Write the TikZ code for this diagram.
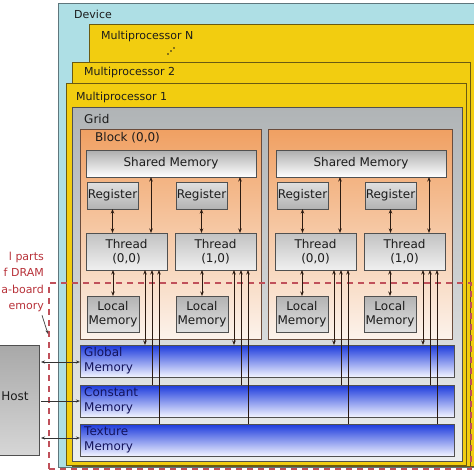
\documentclass[tikz,border=0pt]{standalone}
\usepackage{fontspec}
\setmainfont{DejaVu Sans}
\usetikzlibrary{arrows.meta,calc}
\definecolor{devfill}{HTML}{AEDFE5}
\definecolor{devline}{HTML}{5E767C}
\definecolor{mpy}{HTML}{F2CD10}
\definecolor{mpline}{HTML}{6A5A12}
\definecolor{gridtop}{HTML}{B0B4B6}
\definecolor{gridbot}{HTML}{ECEEEE}
\definecolor{blktop}{HTML}{F0A062}
\definecolor{blkbot}{HTML}{FCF3EC}
\definecolor{blkline}{HTML}{6A4C3C}
\definecolor{memtop}{HTML}{1C3ADC}
\definecolor{membot}{HTML}{F2F4FF}
\definecolor{memtxt}{HTML}{14145C}
\definecolor{boxline}{HTML}{505050}
\definecolor{txtc}{HTML}{1C1C1C}
\definecolor{arrc}{HTML}{2B1A10}
\definecolor{dramred}{HTML}{C0505A}
\definecolor{dramtxt}{HTML}{B8323A}
\begin{document}
\begin{tikzpicture}[x=1pt,y=-1pt,
  box/.style={rectangle, inner sep=0pt, outer sep=0pt, anchor=north west, draw=boxline, line width=0.8pt, text=txtc, font=\fontsize{12}{14.5}\selectfont, align=center},
  biglbl/.style={anchor=west, inner sep=0pt, text=txtc, font=\fontsize{11}{13}\selectfont},
  lbl/.style={anchor=west, inner sep=0pt, text=txtc, font=\fontsize{12}{14}\selectfont},
  memlbl/.style={anchor=west, inner sep=0pt, text=memtxt, align=left, font=\fontsize{12}{15}\selectfont},
  membox/.style={box, top color=memtop, bottom color=membot, minimum width=374pt, minimum height=32pt},
  regbox/.style={box, top color=white!88!black, bottom color=white!70!black, minimum width=51pt, minimum height=27pt},
  thrbox/.style={box, top color=white!76!black, bottom color=white!94!black, minimum width=81pt, minimum height=37pt},
  locbox/.style={box, top color=white!70!black, bottom color=white!88!black, minimum width=52pt, minimum height=36pt},
  smbox/.style={box, top color=white!68!black, bottom color=white, minimum width=170pt, minimum height=27pt},
  blkbox/.style={box, draw=blkline, top color=blktop, bottom color=blkbot, minimum height=210pt},
  mpbox/.style={box, fill=mpy, draw=mpline, line width=1pt},
  arr/.style={arrc, line width=0.9pt, {Stealth[length=4.5pt,width=3.5pt]}-{Stealth[length=4.5pt,width=3.5pt]}},
  arrin/.style={arrc, line width=0.9pt, -{Stealth[length=4.5pt,width=3.5pt]}},
  hostarr/.style={black!80, line width=0.7pt},
]
\useasboundingbox (0,0) rectangle (474,474);
\clip (0,0) rectangle (474,474);
\fill[white] (0,0) rectangle (474,474);

% Device and multiprocessors
\node[box, fill=devfill, draw=devline, minimum width=432pt, minimum height=464pt] (dev) at (58,3) {};
\node[biglbl] (devl) at (74,14) {Device};
\node[mpbox, minimum width=401pt, minimum height=442pt] (mpn) at (89,24) {};
\node[biglbl] (mpnl) at (101,36) {Multiprocessor N};
\fill[txtc] (168,54) circle (0.9) (171,51) circle (0.9) (174,48) circle (0.9);
\node[mpbox, minimum width=398pt, minimum height=404pt] (mp2) at (72,62) {};
\node[biglbl] (mp2l) at (84,72) {Multiprocessor 2};
\node[mpbox, minimum width=400pt, minimum height=382pt] (mp1) at (66,83) {};
\node[biglbl] (mp1l) at (76,97) {Multiprocessor 1};

% Grid and blocks
\node[box, draw=boxline, top color=gridtop, bottom color=gridbot, minimum width=390pt, minimum height=354pt] (grid) at (72,107) {};
\node[lbl] (gridl) at (84,119) {Grid};
\node[blkbox, minimum width=181pt] (blk1) at (80,129) {};
\node[lbl] (blk1l) at (95,138) {Block (0,0)};
\node[blkbox, minimum width=184pt] (blk2) at (268,129) {};

% Shared memories
\node[smbox] (SM1) at (86,150) {Shared Memory};
\node[smbox] (SM2) at (276,150) {Shared Memory};

% Registers
\node[regbox] (R1) at (87,182) {Register};
\node[regbox] (R2) at (176,182) {Register};
\node[regbox] (R3) at (277,182) {Register};
\node[regbox] (R4) at (365,182) {Register};

% Threads
\node[thrbox] (T1) at (86,233) {Thread\\(0,0)};
\node[thrbox] (T2) at (175,233) {Thread\\(1,0)};
\node[thrbox] (T3) at (275,233) {Thread\\(0,0)};
\node[thrbox] (T4) at (364,233) {Thread\\(1,0)};

% Local memories
\node[locbox] (L1) at (87,296) {Local\\Memory};
\node[locbox] (L2) at (176,296) {Local\\Memory};
\node[locbox] (L3) at (276,296) {Local\\Memory};
\node[locbox] (L4) at (364,296) {Local\\Memory};

% Device memories
\node[membox] (GM) at (80,345) {};
\node[memlbl] (GMl) at (84,361) {Global\\Memory};
\node[membox] (CM) at (80,385) {};
\node[memlbl] (CMl) at (84,401) {Constant\\Memory};
\node[membox] (TM) at (80,424) {};
\node[memlbl] (TMl) at (84,440) {Texture\\Memory};

% Host
\node[box, top color=white!66!black, bottom color=white!84!black, minimum width=50pt, minimum height=110pt] (host) at (-11,345) {};
\node[inner sep=0pt, text=txtc, font=\fontsize{12}{14}\selectfont] (hostl) at (15,396) {Host};

% DRAM region
\node[rectangle, inner sep=0pt, outer sep=0pt, anchor=north west, draw=dramred, line width=1.4pt, dash pattern=on 6pt off 5pt, minimum width=422pt, minimum height=186pt] (dram) at (49,283) {};
\node[anchor=east, align=right, inner sep=0pt, text=dramtxt, font=\fontsize{11}{16.5}\selectfont] (dramt) at (44,282) {l parts\\f DRAM\\a-board\\emory};
\coordinate (annE) at (48,334);
\draw[black!75, line width=0.7pt, -{Stealth[length=4pt,width=3pt]}] ($(dramt.south east)+(-2,3)$) -- (annE);

% Arrows inside blocks
\foreach \r/\t/\l/\s in {R1/T1/L1/SM1, R2/T2/L2/SM1, R3/T3/L3/SM2, R4/T4/L4/SM2} {
  \draw[arr] (\r.south) -- (\r.south |- \t.north);
  \draw[arr] (\t.south -| \l.north) -- (\l.north);
  \coordinate (\t s) at ($(\t.north east)+(-16,0)$);
  \draw[arr] (\t s |- \s.south) -- (\t s);
  \coordinate (\t g) at ($(\t.south east)+(-22,0)$);
  \coordinate (\t c) at ($(\t.south east)+(-15,0)$);
  \coordinate (\t x) at ($(\t.south east)+(-8,0)$);
  \draw[arr] (\t g) -- (\t g |- GM.north);
  \draw[arrin] (\t c |- CM.north) -- (\t c);
  \draw[arrin] (\t x |- TM.north) -- (\t x);
}

% Host arrows
\draw[hostarr, {Stealth[length=4pt,width=3pt]}-{Stealth[length=4pt,width=3pt]}] ($(GM.west -| host.east)+(2,1)$) -- ($(GM.west)+(0,1)$);
\draw[hostarr, -{Stealth[length=4pt,width=3pt]}] ($(CM.west -| host.east)+(2,0)$) -- (CM.west);
\draw[hostarr, {Stealth[length=4pt,width=3pt]}-{Stealth[length=4pt,width=3pt]}] ($(TM.west -| host.east)+(2,-2)$) -- ($(TM.west)+(0,-2)$);
\end{tikzpicture}
\end{document}
